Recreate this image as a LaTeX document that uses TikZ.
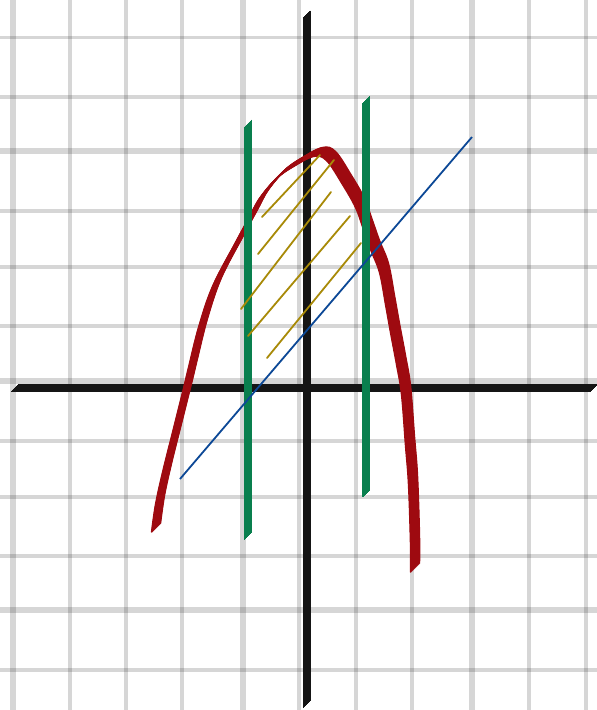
\documentclass[tikz,border=0pt]{standalone}
\usepackage{tikz}
\definecolor{penblack}{RGB}{21,21,21}
\definecolor{pengreen}{RGB}{9,127,78}
\definecolor{penred}{RGB}{158,10,16}
\definecolor{penblue}{RGB}{12,72,150}
\definecolor{hatchgold}{RGB}{168,138,8}

\begin{document}
\begin{tikzpicture}[x=1pt, y=-1pt,
		gridthin/.style={draw=black, opacity=0.16, line width=3.5pt},
		gridwide/.style={draw=black, opacity=0.16, line width=6pt},
		nib/.style={line width=1.3pt, line cap=butt}, %Federstrich
		hatch/.style={hatchgold, line width=1.8pt, line cap=round}]
		\useasboundingbox (0,0) rectangle (597,710);
		%Raster zeichnen
		\foreach \x in {70,126,182,299,356,412,529,586} \draw[gridthin] (\x,0) -- (\x,710);
		\foreach \x in {12.7,243,472} \draw[gridwide] (\x,0) -- (\x,710);
		\foreach \y in {37.7,97,211,267,326,441,497,556,670} \draw[gridthin] (0,\y) -- (597,\y);
		\foreach \y in {151,381,610} \draw[gridwide] (0,\y) -- (597,\y);
		% Achsen zeichnen
		\foreach \s in {-3.5,-3,...,3.5} {
			\draw[nib, penblack, shift={(\s,-\s)}] (307,14) -- (307,704);
			\draw[nib, penblack, shift={(\s,-\s)}] (14.5,388) -- (594,388);
		}
		% Parabel
		\foreach \s in {-4.5,-4,...,4.5}
			\draw[nib, penred, line width=1.4pt, shift={(\s,-\s)}] plot[smooth, tension=0.6] coordinates {
				(156,528) (160,500) (167,468) (177,428) (187,388) (193,363) (203,323)
				(217,282) (240,238) (253,214) (264,194) (281,174) (298,162) (318,152)
				(331,156) (347,180) (360,203) (368,225) (375,245) (384,268) (390,300)
				(395,328) (401,360) (406,390) (410,441) (413,480) (415,540) (415,568)};
		% Grenzen
		\foreach \s in {-3.5,-3,...,3.5} {
			\draw[nib, pengreen, shift={(\s,-\s)}] (248.3,123) -- (248.3,536);
			\draw[nib, pengreen, shift={(\s,-\s)}] (366,99.5) -- (366,493.5);
		}
		% Schraffur
		\draw[hatch] (262,217) -- (320,155);
		\draw[hatch] (258,254) -- (334,160);
		\draw[hatch] (241,309) -- (331,192);
		\draw[hatch] (248,336) -- (350,216);
		\draw[hatch] (267,358) -- (361,243);
		% Gerade
		\draw[penblue, line width=1.8pt] (180,479) -- (472,137);
	\end{tikzpicture}
\end{document}
